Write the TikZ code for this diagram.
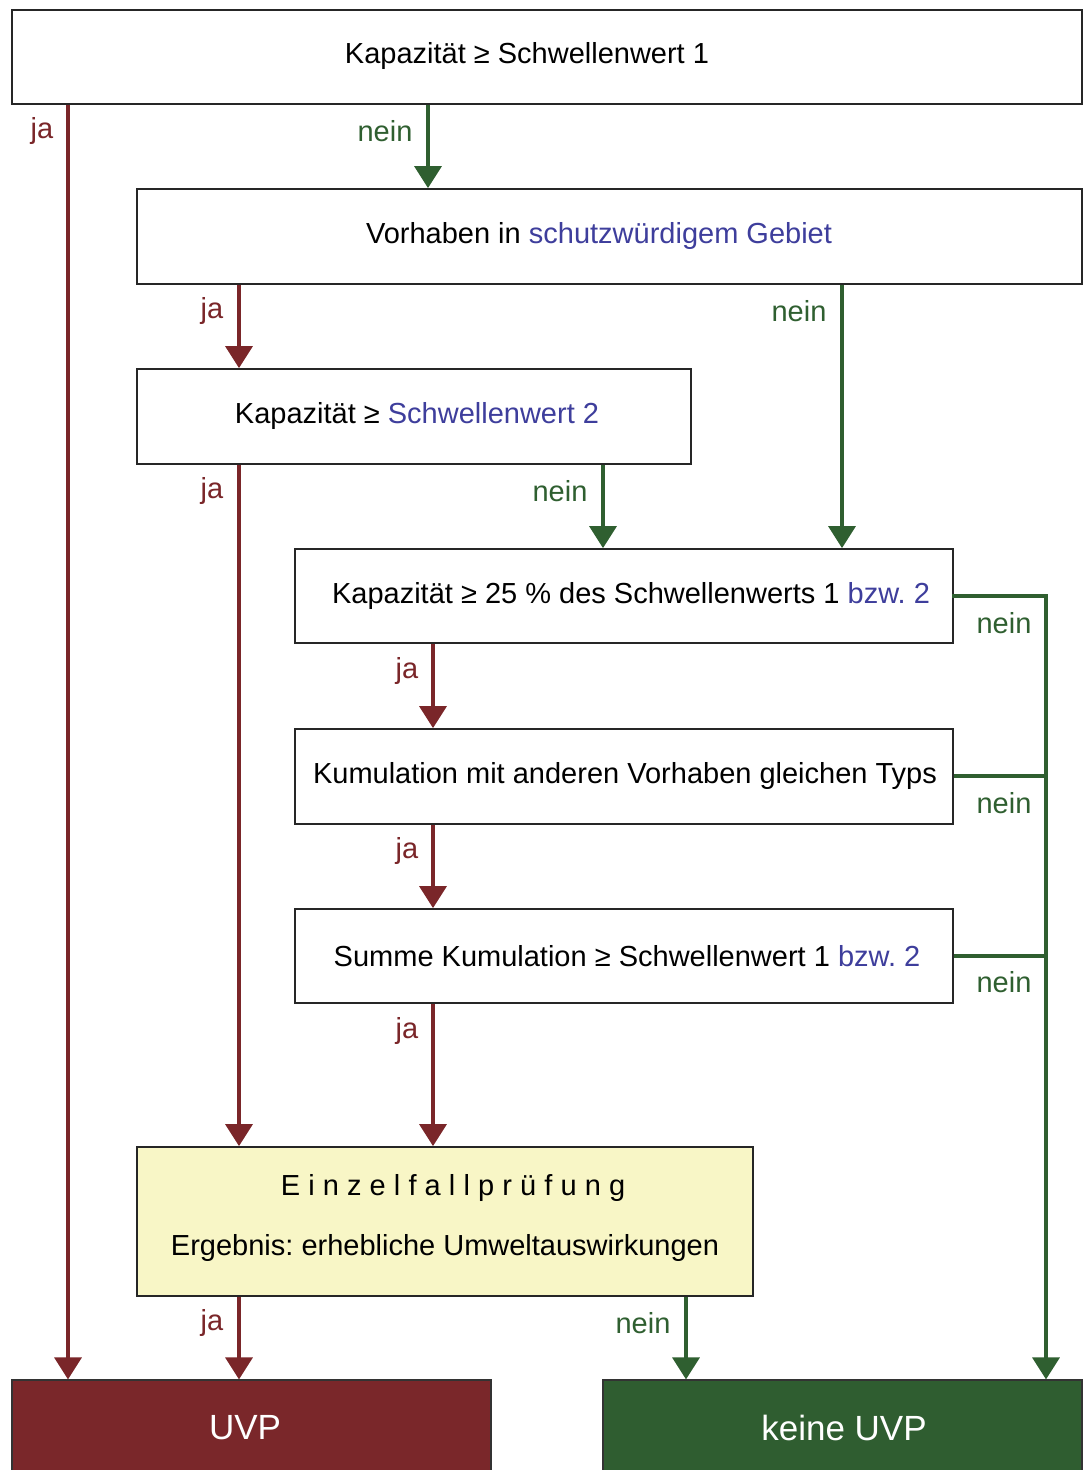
\documentclass[tikz,border=0pt]{standalone}
\usepackage{fontspec}
\setmainfont{Liberation Sans}
\usetikzlibrary{arrows.meta}
\definecolor{jared}{HTML}{7A2629}
\definecolor{neingreen}{HTML}{2F5F30}
\definecolor{linkblue}{HTML}{3E3E9C}
\definecolor{paleyellow}{HTML}{F8F6C6}
\definecolor{uvpred}{HTML}{7A272A}
\definecolor{keingreen}{HTML}{2F5D30}
\frenchspacing
\begin{document}
\begin{tikzpicture}[x=1pt,y=-1pt,
  every node/.style={font=\fontsize{29}{34}\selectfont},
  qbox/.style={draw=black!85,line width=1.8pt,fill=white,inner sep=0pt,anchor=center},
  qtext/.style={inner sep=0pt,anchor=center},
  endbox/.style={draw=black!80,line width=1.2pt,inner sep=0pt,anchor=center,text=white,font=\fontsize{35}{40}\selectfont},
  jaline/.style={draw=jared,line width=3.5pt},
  neinline/.style={draw=neingreen,line width=3.5pt},
  jaarrow/.style={jaline,-{Triangle[length=22pt,width=27pt]}},
  neinarrow/.style={neinline,-{Triangle[length=22pt,width=27pt]}},
  jalabel/.style={text=jared,inner sep=0pt},
  neinlabel/.style={text=neingreen,inner sep=0pt}]
\useasboundingbox (0,0) rectangle (1087,1470);
\fill[white] (0,0) rectangle (1087,1470);

% boxes
\node[qbox,minimum width=1070pt,minimum height=94pt] (b1) at (547,57) {};
\node[qbox,minimum width=945pt,minimum height=95pt] (b2) at (609.5,236.5) {};
\node[qbox,minimum width=554pt,minimum height=95pt] (b3) at (414,416.5) {};
\node[qbox,minimum width=658pt,minimum height=94pt] (b4) at (624,596) {};
\node[qbox,minimum width=658pt,minimum height=95pt] (b5) at (624,776.5) {};
\node[qbox,minimum width=658pt,minimum height=94pt] (b6) at (624,956) {};
\node[qbox,fill=paleyellow,minimum width=616pt,minimum height=149pt] (b7) at (445,1221.5) {};
\node[endbox,fill=uvpred,minimum width=479pt,minimum height=94pt] (uvp) at (251.5,1427) {};
\node[endbox,fill=keingreen,minimum width=479pt,minimum height=94pt] (kuvp) at (842.5,1427) {};

% box texts
\node[qtext] (b1t) at (527,56) {Kapazität ≥ Schwellenwert 1};
\node[qtext] (b2t) at (599,236) {Vorhaben in \textcolor{linkblue}{schutzwürdigem Gebiet}};
\node[qtext] (b3t) at (417,416) {Kapazität ≥ \textcolor{linkblue}{Schwellenwert 2}};
\node[qtext] (b4t) at (631,596) {Kapazität ≥ 25 \% des Schwellenwerts 1 \textcolor{linkblue}{bzw. 2}};
\node[qtext] (b5t) at (625,776) {Kumulation mit anderen Vorhaben gleichen Typs};
\node[qtext] (b6t) at (627,956) {Summe Kumulation ≥ Schwellenwert 1 \textcolor{linkblue}{bzw. 2}};
\node[qtext] (b7a) at (453,1188) {\addfontfeatures{LetterSpace=28}Einzelfallprüfung};
\node[qtext] (b7b) at (445,1248) {Ergebnis: erhebliche Umweltauswirkungen};
\node[qtext,text=white,font=\fontsize{35}{40}\selectfont] (uvpt) at (245,1428) {UVP};
\node[qtext,text=white,font=\fontsize{35}{40}\selectfont] (kuvpt) at (844,1428) {keine UVP};

% ja arrows
\draw[jaarrow] (b1.south -| 68,0) -- (uvp.north -| 68,0);
\draw[jaarrow] (b2.south -| 239,0) -- (b3.north -| 239,0);
\draw[jaarrow] (b3.south -| 239,0) -- (b7.north -| 239,0);
\draw[jaarrow] (b4.south -| 433,0) -- (b5.north -| 433,0);
\draw[jaarrow] (b5.south -| 433,0) -- (b6.north -| 433,0);
\draw[jaarrow] (b6.south -| 433,0) -- (b7.north -| 433,0);
\draw[jaarrow] (b7.south -| 239,0) -- (uvp.north -| 239,0);

% nein arrows
\draw[neinarrow] (b1.south -| 428,0) -- (b2.north -| 428,0);
\draw[neinarrow] (b2.south -| 842,0) -- (b4.north -| 842,0);
\draw[neinarrow] (b3.south -| 603,0) -- (b4.north -| 603,0);
\draw[neinarrow] (b7.south -| 686,0) -- (kuvp.north -| 686,0);
\coordinate (r4) at (1046,596);
\coordinate (r5) at (1046,776);
\coordinate (r6) at (1046,956);
\draw[neinline,line cap=rect] (b4.east) -- (r4);
\draw[neinarrow] (r4) -- (kuvp.north -| r4);
\draw[neinline] (b5.east |- r5) -- (r5);
\draw[neinline] (b6.east |- r6) -- (r6);

% labels
\node[jalabel] (l1) at (42,131) {ja};
\node[neinlabel] (l2) at (385,131) {nein};
\node[jalabel] (l3) at (212,311) {ja};
\node[neinlabel] (l4) at (799,311) {nein};
\node[jalabel] (l5) at (212,491) {ja};
\node[neinlabel] (l6) at (560,491) {nein};
\node[jalabel] (l7) at (407,671) {ja};
\node[neinlabel] (l8) at (1004,623) {nein};
\node[jalabel] (l9) at (407,851) {ja};
\node[neinlabel] (l10) at (1004,803) {nein};
\node[jalabel] (l11) at (407,1031) {ja};
\node[neinlabel] (l12) at (1004,982) {nein};
\node[jalabel] (l13) at (212,1323) {ja};
\node[neinlabel] (l14) at (643,1323) {nein};
\end{tikzpicture}
\end{document}
